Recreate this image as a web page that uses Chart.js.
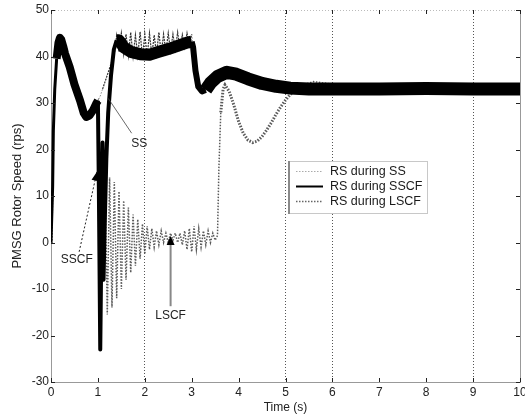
<!DOCTYPE html>
<html>
<head>
<meta charset="utf-8">
<script src="https://cdn.jsdelivr.net/npm/chart.js@4.4.1/dist/chart.umd.min.js"></script>
<style>
  html, body { margin: 0; padding: 0; background: #fff; }
  #speedChart { display: block; }
</style>
</head>
<body>
<canvas id="speedChart" width="525" height="417"></canvas>
<script>
const xTicks = [0, 1, 2, 3, 4, 5, 6, 7, 8, 9, 10];
const yTicks = [-30, -20, -10, 0, 10, 20, 30, 40, 50];
const gridX = [2, 5, 6, 9];

// RS during SS
const ssTime = [0, 0.02, 0.035, 0.05, 0.08, 0.12, 0.16, 0.19, 0.22, 0.26, 0.30, 0.40, 0.50, 0.62, 0.70,
    0.75, 0.82, 0.90, 0.97, 1.00, 1.05, 1.10, 1.15, 1.20, 1.25, 1.30, 1.35,
    1.40, 1.45, 1.50, 1.55, 1.60, 1.65, 1.70, 1.75, 1.80, 1.85, 1.90, 1.95, 2.00, 2.05, 2.10, 2.15,
    2.20, 2.25, 2.30, 2.35, 2.40, 2.45, 2.50, 2.55, 2.60, 2.65, 2.70, 2.75, 2.80, 2.85, 2.90, 2.95, 3.00,
    3.03, 3.08, 3.14, 3.22, 3.30, 3.40, 3.55, 3.75, 3.95, 4.20, 4.50, 4.80, 5.10, 5.50, 6, 7, 8, 9, 10];
const ssSpeed = [0, 0, 12, 24, 33, 39.5, 43, 44, 43.6, 42.2, 40.6, 37.7, 34, 30.5, 27.8,
    27, 27.3, 28.5, 30, 30.5, 31.5, 33, 34.5, 36, 37.5, 39, 40.5,
    44.5, 41, 45, 40.5, 44.8, 40.2, 45.2, 40, 44.6, 40.2, 45.3, 39.8, 44.8, 40, 45, 40.2,
    44.6, 40.5, 45.2, 40.6, 44.8, 41, 45, 41.2, 44.8, 41.5, 45.2, 41.8, 44.7, 42, 45, 42.3, 44.8,
    42, 37, 33.5, 32.5, 32.8, 34.3, 35.7, 36.6, 36.2, 35.2, 34.2, 33.6, 33.2, 33, 33, 33, 33.1, 33, 33];

// RS during SSCF
const sscfTime = [0, 0.02, 0.035, 0.05, 0.08, 0.12, 0.16, 0.19, 0.22, 0.26, 0.30, 0.40, 0.50, 0.62, 0.70,
    0.75, 0.82, 0.90, 0.97, 1.00, 1.02, 1.05, 1.08, 1.10, 1.12, 1.15, 1.18, 1.22, 1.28, 1.34,
    1.40, 1.45, 1.55, 1.70, 1.90, 2.10, 2.30, 2.50, 2.70, 2.90, 3.00,
    3.03, 3.08, 3.14, 3.22, 3.30, 3.40, 3.55, 3.75, 3.95, 4.20, 4.50, 4.80, 5.10, 5.50, 6, 7, 8, 9, 10];
const sscfSpeed = [0, 0, 12, 24, 33, 39.5, 43, 44, 43.6, 42.2, 40.6, 37.7, 34, 30.5, 27.8,
    27, 27.3, 28.5, 30, 30.5, 12, -23, 5, 21.5, -8, 6, 18, 28, 36, 41.5,
    43.5, 43.5, 42, 41, 40.5, 40.4, 41, 41.6, 42.3, 43, 43.2,
    42, 37, 33.5, 32.5, 32.8, 34.3, 35.7, 36.6, 36.2, 35.2, 34.2, 33.6, 33.2, 33, 33, 33, 33.1, 33, 33];

// RS during LSCF
const lscfTime = [0, 0.02, 0.035, 0.05, 0.08, 0.12, 0.16, 0.19, 0.22, 0.26, 0.30, 0.40, 0.50, 0.62, 0.70,
    0.75, 0.82, 0.90, 0.97, 1.00, 1.02, 1.06, 1.10,
    1.15, 1.20, 1.25, 1.30, 1.35, 1.40, 1.45, 1.50, 1.55, 1.60, 1.65, 1.70, 1.75, 1.80, 1.85, 1.90,
    1.95, 2.00, 2.05, 2.10, 2.15, 2.20, 2.25, 2.30, 2.35, 2.40, 2.45, 2.50, 2.55, 2.60, 2.65, 2.70,
    2.75, 2.80, 2.85, 2.90, 2.95, 3.00, 3.05, 3.10, 3.15, 3.20, 3.25, 3.30, 3.35, 3.40, 3.45, 3.50, 3.55,
    3.58, 3.62, 3.67, 3.71, 3.80, 3.90, 4.00, 4.10, 4.20, 4.30, 4.40, 4.50, 4.60, 4.70, 4.80, 4.90,
    5.00, 5.10, 5.20, 5.40, 5.60, 5.90, 6.30, 7, 8, 9, 10];
const lscfSpeed = [0, 0, 12, 24, 33, 39.5, 43, 44, 43.6, 42.2, 40.6, 37.7, 34, 30.5, 27.8,
    27, 27.3, 28.5, 30, 30.5, 0, -10, 12,
    15, -15.5, 14, -14, 13, -12, 11, -10, 9, -8, 7.5, -6.5, 6, -5, 5, -3.5,
    4, -2.5, 3.5, -1.5, 3, -1, 2.5, -0.5, 2.5, 0, 2, 0, 2, 0.5, 2, 0,
    2, -0.5, 2.5, -1.5, 3, -2, 3.5, -1.5, 3, -1, 2.5, -0.5, 2.5, 0, 2, 0.5, 1.5,
    16, 28, 33, 33.9, 32.5, 29.5, 26, 23.5, 22, 21.5, 21.8, 22.8, 24.2, 25.8, 27.6, 29.2,
    30.6, 31.8, 32.8, 34, 34.6, 34.2, 33.5, 33, 33, 33, 33];

const FONT = "'Liberation Sans', Arial, Helvetica, sans-serif";

function toPoints(times, values) {
    return times.map((t, i) => ({ x: t, y: values[i] }));
}

// thickness of the black band (ripple envelope) along the time axis
function sscfWidth(t) {
    if (t < 0.1) return 3;
    if (t < 1.0) return 8;
    if (t < 1.4) return 4;
    if (t < 3.0) return 12;
    if (t < 3.3) return 6;
    return 13;
}

function arrowHead(ctx, x0, y0, x1, y1, len, half) {
    const a = Math.atan2(y1 - y0, x1 - x0);
    ctx.beginPath();
    ctx.moveTo(x1, y1);
    ctx.lineTo(x1 - len * Math.cos(a) + half * Math.sin(a), y1 - len * Math.sin(a) - half * Math.cos(a));
    ctx.lineTo(x1 - len * Math.cos(a) - half * Math.sin(a), y1 - len * Math.sin(a) + half * Math.cos(a));
    ctx.closePath();
    ctx.fill();
}

const decorPlugin = {
    id: 'decor',
    afterDraw(chart) {
        const { ctx, chartArea: a, scales: { x, y } } = chart;
        ctx.save();

        // right frame
        ctx.strokeStyle = '#999';
        ctx.lineWidth = 1;
        ctx.beginPath();
        ctx.moveTo(a.right + 0.5, a.top);
        ctx.lineTo(a.right + 0.5, a.bottom);
        ctx.stroke();

        // inward tick marks on all four sides
        ctx.strokeStyle = '#222';
        ctx.beginPath();
        xTicks.forEach(v => {
            const px = Math.round(x.getPixelForValue(v)) + 0.5;
            ctx.moveTo(px, a.bottom); ctx.lineTo(px, a.bottom - 4);
            ctx.moveTo(px, a.top); ctx.lineTo(px, a.top + 4);
        });
        yTicks.forEach(v => {
            const py = Math.round(y.getPixelForValue(v)) + 0.5;
            ctx.moveTo(a.left, py); ctx.lineTo(a.left + 4, py);
            ctx.moveTo(a.right, py); ctx.lineTo(a.right - 4, py);
        });
        ctx.stroke();

        // annotations
        ctx.font = '12px ' + FONT;
        ctx.fillStyle = '#222';
        ctx.textAlign = 'center';
        ctx.textBaseline = 'middle';

        // SS
        ctx.strokeStyle = '#444';
        ctx.lineWidth = 0.8;
        ctx.beginPath();
        ctx.moveTo(x.getPixelForValue(1.22), y.getPixelForValue(31));
        ctx.lineTo(x.getPixelForValue(1.72), y.getPixelForValue(23.5));
        ctx.stroke();
        ctx.fillText('SS', x.getPixelForValue(1.88), y.getPixelForValue(21.2));

        // SSCF
        const s0x = x.getPixelForValue(0.6), s0y = y.getPixelForValue(-2);
        const s1x = x.getPixelForValue(0.98), s1y = y.getPixelForValue(15.2);
        ctx.setLineDash([2, 2]);
        ctx.strokeStyle = '#222';
        ctx.lineWidth = 1;
        ctx.beginPath();
        ctx.moveTo(s0x, s0y);
        ctx.lineTo(s1x, s1y);
        ctx.stroke();
        ctx.setLineDash([]);
        ctx.fillStyle = '#000';
        arrowHead(ctx, s0x, s0y, s1x, s1y, 9, 3.5);
        ctx.fillStyle = '#222';
        ctx.fillText('SSCF', x.getPixelForValue(0.55), y.getPixelForValue(-3.8));

        // LSCF
        const l0x = x.getPixelForValue(2.55), l0y = y.getPixelForValue(-13.7);
        const l1y = y.getPixelForValue(1.4);
        ctx.strokeStyle = '#888';
        ctx.lineWidth = 2;
        ctx.beginPath();
        ctx.moveTo(l0x, l0y);
        ctx.lineTo(l0x, l1y + 6);
        ctx.stroke();
        ctx.fillStyle = '#000';
        arrowHead(ctx, l0x, l0y, l0x, l1y, 9, 4);
        ctx.fillStyle = '#222';
        ctx.fillText('LSCF', x.getPixelForValue(2.55), y.getPixelForValue(-15.8));

        // legend box
        const bx = 288, by = 161, bw = 139, bh = 52;
        ctx.fillStyle = '#fff';
        ctx.fillRect(bx, by, bw, bh);
        ctx.strokeStyle = '#c8c8c8';
        ctx.lineWidth = 1;
        ctx.strokeRect(bx + 0.5, by + 0.5, bw, bh);
        ctx.strokeStyle = '#8a8a8a';
        ctx.lineWidth = 2;
        ctx.beginPath();
        ctx.moveTo(bx + 1, by);
        ctx.lineTo(bx + 1, by + bh + 1);
        ctx.stroke();

        ctx.font = '12.5px ' + FONT;
        ctx.textAlign = 'left';
        chart.data.datasets.forEach((ds, i) => {
            const ly = by + 10.5 + i * 15;
            ctx.strokeStyle = ds.legendColor;
            ctx.lineWidth = ds.legendWidth;
            ctx.setLineDash(ds.borderDash || []);
            ctx.beginPath();
            ctx.moveTo(bx + 8, ly);
            ctx.lineTo(bx + 35, ly);
            ctx.stroke();
            ctx.setLineDash([]);
            ctx.fillStyle = '#1a1a1a';
            ctx.fillText(ds.label, bx + 42, ly + 0.5);
        });

        ctx.restore();
    }
};

// ripple region of the healthy run shows as a dense dark mesh above the black band
const ssRipple = c => c.p0.parsed.x >= 1.1 && c.p0.parsed.x < 3.0;

new Chart(document.getElementById('speedChart').getContext('2d'), {
    type: 'line',
    data: {
        datasets: [{
            label: 'RS during SS',
            data: toPoints(ssTime, ssSpeed),
            borderColor: '#8c8c8c',
            legendColor: '#aaa',
            borderWidth: 1,
            borderDash: [1.5, 1.5],
            legendWidth: 1,
            segment: {
                borderColor: c => (ssRipple(c) ? '#333' : undefined),
                borderDash: c => (ssRipple(c) ? [2, 1] : undefined),
                borderWidth: c => (ssRipple(c) ? 1.2 : undefined)
            },
            order: 3
        }, {
            label: 'RS during SSCF',
            data: toPoints(sscfTime, sscfSpeed),
            borderColor: '#000',
            legendColor: '#000',
            borderWidth: 6,
            legendWidth: 2,
            borderJoinStyle: 'round',
            borderCapStyle: 'butt',
            segment: { borderWidth: c => sscfWidth(c.p0.parsed.x) },
            order: 1
        }, {
            label: 'RS during LSCF',
            data: toPoints(lscfTime, lscfSpeed),
            borderColor: '#5a5a5a',
            legendColor: '#666',
            borderWidth: 1.5,
            borderDash: [1.5, 1.5],
            legendWidth: 1.5,
            segment: { borderWidth: c => (c.p0.parsed.x >= 3.6 && c.p0.parsed.x < 5.3 ? 3 : 1.5) },
            order: 2
        }]
    },
    options: {
        responsive: false,
        animation: false,
        devicePixelRatio: 1,
        layout: { padding: { top: 10, right: 5, left: 0, bottom: 0 } },
        elements: { point: { radius: 0 }, line: { tension: 0, fill: false } },
        plugins: { legend: { display: false }, tooltip: { enabled: false } },
        scales: {
            x: {
                type: 'linear',
                min: 0,
                max: 10,
                afterBuildTicks: s => { s.ticks = xTicks.map(v => ({ value: v })); },
                afterFit: s => { s.height = 35; s.paddingLeft = 0; s.paddingRight = 0; },
                grid: {
                    drawTicks: false,
                    lineWidth: 1,
                    color: c => (c.tick && gridX.includes(c.tick.value) ? '#555' : 'rgba(0,0,0,0)')
                },
                border: { display: true, color: '#999', dash: [1, 2] },
                ticks: { padding: 3, color: '#222', maxRotation: 0, autoSkip: false, font: { family: FONT, size: 12 } },
                title: { display: true, text: 'Time (s)', color: '#222', padding: { top: 0, bottom: 2 }, font: { family: FONT, size: 12 } }
            },
            y: {
                min: -30,
                max: 50,
                afterBuildTicks: s => { s.ticks = yTicks.map(v => ({ value: v })); },
                afterFit: s => { s.width = 51; s.paddingTop = 0; s.paddingBottom = 0; },
                grid: {
                    drawTicks: false,
                    lineWidth: 1,
                    color: c => (c.tick && c.tick.value === 50 ? '#bbb' : 'rgba(0,0,0,0)')
                },
                border: { display: true, color: '#999', dash: [1, 2] },
                ticks: { padding: 2, color: '#222', font: { family: FONT, size: 12 } },
                title: { display: true, text: 'PMSG Rotor Speed (rps)', color: '#222', padding: { top: 10, bottom: 0 }, font: { family: FONT, size: 13 } }
            }
        }
    },
    plugins: [decorPlugin]
});
</script>
</body>
</html>
